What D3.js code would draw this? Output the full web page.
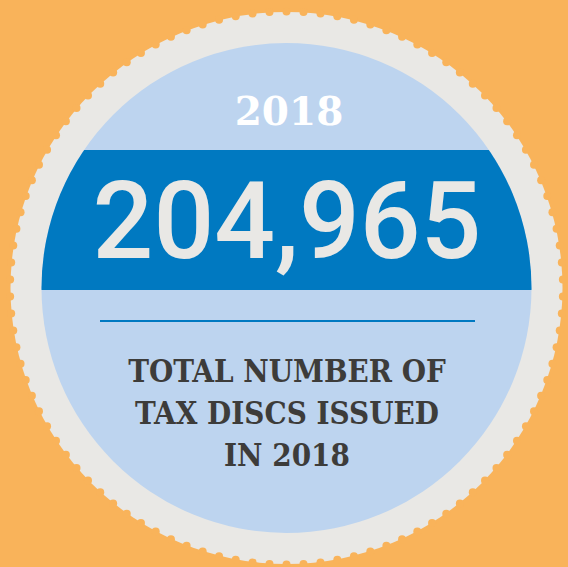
<!DOCTYPE html>
<html>
<head>
<meta charset="utf-8">
<script src="https://cdn.jsdelivr.net/npm/d3@7"></script>
<style>
  body { margin: 0; background: #F9B35A; }
</style>
</head>
<body>
<div id="my_dataviz"></div>
<script>
// data
var yearLabel = ["2018"];
var totalValue = [204965];
var captionLines = ["TOTAL NUMBER OF", "TAX DISCS ISSUED", "IN 2018"];

// dimensions
var width = 568,
    height = 567,
    cx = 286.5,
    cy = 288,
    outerR = 276,
    innerR = 245,
    notchCount = 102,
    notchR = 4;

var svg = d3.select("#my_dataviz")
  .append("svg")
    .attr("width", width)
    .attr("height", height);

svg.append("rect")
    .attr("width", width)
    .attr("height", height)
    .attr("fill", "#F9B35A");

var g = svg.append("g")
    .attr("transform", "translate(" + cx + "," + cy + ")");

// grey disc with little notches round the rim
g.append("circle")
    .attr("r", outerR)
    .attr("fill", "#E9E8E5");

var angle = d3.scaleLinear().domain([0, notchCount]).range([0, 2 * Math.PI]);
g.selectAll(".notch")
  .data(d3.range(notchCount))
  .enter()
  .append("circle")
    .attr("class", "notch")
    .attr("cx", function(d) { return Math.sin(angle(d)) * (outerR + 0.5); })
    .attr("cy", function(d) { return -Math.cos(angle(d)) * (outerR + 0.5); })
    .attr("r", notchR)
    .attr("fill", "#F9B35A");

// inner light blue face
svg.append("clipPath")
    .attr("id", "face")
  .append("circle")
    .attr("cx", cx)
    .attr("cy", cy)
    .attr("r", innerR);

g.append("circle")
    .attr("r", innerR)
    .attr("fill", "#BDD4EF");

// dark blue band, clipped to the face
svg.append("rect")
    .attr("clip-path", "url(#face)")
    .attr("x", 0)
    .attr("y", 150)
    .attr("width", width)
    .attr("height", 140)
    .attr("fill", "#0079C1");

// year
svg.selectAll(".year")
  .data(yearLabel)
  .enter()
  .append("text")
    .attr("class", "year")
    .attr("x", 289)
    .attr("y", 125)
    .attr("text-anchor", "middle")
    .style("font-family", "'DejaVu Serif', serif")
    .style("font-weight", "bold")
    .style("font-size", "39px")
    .style("fill", "#FFFFFF")
    .text(function(d) { return d; });

// big number
svg.selectAll(".total")
  .data(totalValue)
  .enter()
  .append("text")
    .attr("class", "total")
    .attr("x", 287)
    .attr("y", 258)
    .attr("text-anchor", "middle")
    .style("font-family", "Roboto, sans-serif")
    .style("font-weight", "500")
    .style("font-size", "107px")
    .style("fill", "#E9E8E5")
    .text(function(d) { return d3.format(",")(d); });

// divider
svg.append("line")
    .attr("x1", 100)
    .attr("x2", 475)
    .attr("y1", 321)
    .attr("y2", 321)
    .attr("stroke", "#0079C1")
    .attr("stroke-width", 2);

// caption
svg.selectAll(".caption")
  .data(captionLines)
  .enter()
  .append("text")
    .attr("class", "caption")
    .attr("x", 287)
    .attr("y", function(d, i) { return 382 + i * 42; })
    .attr("text-anchor", "middle")
    .style("font-family", "'DejaVu Serif Condensed', 'DejaVu Serif', serif")
    .style("font-stretch", "condensed")
    .style("font-weight", "bold")
    .style("font-size", "31px")
    .style("fill", "#3D3C3A")
    .text(function(d) { return d; });
</script>
</body>
</html>
